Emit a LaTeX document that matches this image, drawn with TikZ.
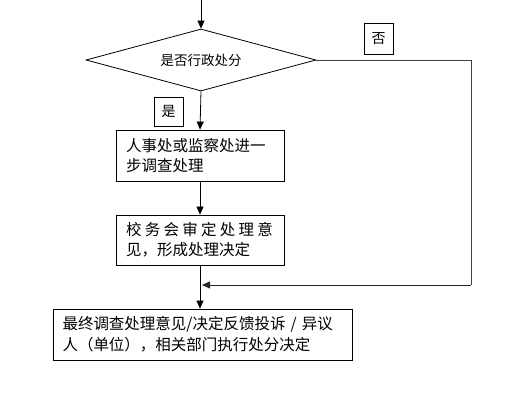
\documentclass[tikz,border=0pt]{standalone}
\usepackage{fontspec}
\setmainfont{Noto Sans CJK SC}
\usetikzlibrary{shapes.geometric,arrows.meta}
\begin{document}
\begin{tikzpicture}[x=1pt,y=-1pt,
  line/.style={draw=black,line width=0.8pt},
  arr/.style={line,-{Triangle[length=8pt,width=7pt]}},
  stepbox/.style={draw=black,line width=0.8pt,rectangle,inner sep=0pt,
    font=\fontsize{15.5}{20.5}\selectfont,align=left},
  tagbox/.style={draw=black,line width=0.8pt,rectangle,inner sep=0pt,
    font=\fontsize{14}{16}\selectfont}]
\useasboundingbox (0,0) rectangle (520,403);
\coordinate (top) at (201,0);
\node[draw=black,line width=0.8pt,diamond,aspect=3.7,minimum width=230pt,minimum height=62pt,inner sep=0pt,
  font=\fontsize{13.5}{16}\selectfont] (dec) at (201,60) {是否行政处分};
\node[tagbox,minimum width=29pt,minimum height=31pt] (no) at (378.5,38.5) {否};
\node[tagbox,minimum width=29pt,minimum height=29pt] (yes) at (168.5,111.5) {是};
\node[stepbox,minimum width=168pt,minimum height=51pt,text width=148pt] (b1) at (200,155.5)
  {人事处或监察处进一\\步调查处理};
\node[stepbox,minimum width=168pt,minimum height=50pt,text width=148pt] (b2) at (200,240)
  {\makebox[147pt][s]{校\hfill 务\hfill 会\hfill 审\hfill 定\hfill 处\hfill 理\hfill 意}\\见，形成处理决定};
\node[stepbox,minimum width=299pt,minimum height=51pt,text width=280pt] (b3) at (202.5,334.5)
  {最终调查处理意见/决定反馈投诉 / 异议\\人（单位），相关部门执行处分决定};
\coordinate (c1) at (471,60);
\coordinate (c2) at (471,285);
\coordinate (j) at (202,285);
\draw[arr] (top) -- (dec.north);
\draw[arr] (dec.south) -- (b1.north);
\draw[arr] (b1.south) -- (b2.north);
\draw[arr] (b2.south) -- (b2.south |- b3.north);
\draw[line,draw=black!75] (dec.east) -- (c1) -- (c2);
\draw[arr,draw=black!85] (c2) -- (j);
\end{tikzpicture}
\end{document}
